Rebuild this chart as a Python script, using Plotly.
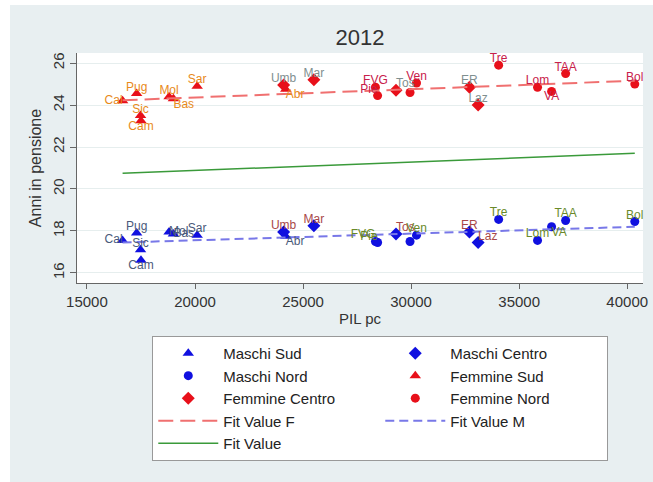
import plotly.graph_objects as go

# ---------------- data ----------------
regions = ["Cal", "Pug", "Sic", "Cam", "Mol", "Bas", "Sar", "Umb", "Abr", "Mar", "FVG",
           "Pie", "Tos", "Lig", "Ven", "ER", "Laz", "Tre", "Lom", "VA", "TAA", "Bol"]
area = ["Sud", "Sud", "Sud", "Sud", "Sud", "Sud", "Sud", "Centro", "Sud", "Centro", "Nord",
        "Nord", "Centro", "Nord", "Nord", "Centro", "Centro", "Nord", "Nord", "Nord", "Nord", "Nord"]
pil_pc = [16650, 17300, 17480, 17500, 18800, 19000, 20100, 24100, 24200, 25500, 28350,
          28450, 29300, 29950, 30250, 32700, 33100, 34050, 35850, 36500, 37150, 40350]
anni_f = [24.2, 24.55, 23.5, 23.25, 24.4, 24.3, 24.9, 24.95, 24.75, 25.2, 24.85,
          24.45, 24.7, 24.6, 25.05, 24.85, 24.0, 25.9, 24.85, 24.65, 25.5, 25.0]
anni_m = [17.55, 17.9, 17.1, 16.6, 17.95, 17.85, 17.8, 17.95, 17.75, 18.25, 17.5,
          17.45, 17.85, 17.5, 17.8, 17.95, 17.45, 18.55, 17.55, 18.2, 18.5, 18.45]

fit_x = [16650, 40350]
fit_f = [24.23, 25.16]
fit_m = [17.45, 18.2]
fit_all = [20.75, 21.7]

x_ticks = [15000, 20000, 25000, 30000, 35000, 40000]
y_ticks = [16, 18, 20, 22, 24, 26]

# ---------------- styles ----------------
FONT = "Liberation Sans, Arial, sans-serif"
RED = "#e8101a"
BLUE = "#1010e0"
label_col_f = {"Sud": "#e88a1a", "Centro": "#7f8f8f", "Nord": "#c8204a"}
label_col_m = {"Sud": "#4a5a7a", "Centro": "#a84848", "Nord": "#6a8a2a"}
symbols = {"Sud": "triangle-up", "Centro": "diamond", "Nord": "circle"}
sizes = {"Sud": 10, "Centro": 10, "Nord": 9}

pos_f = {"Cal": "middle left", "Cam": "bottom center", "Bas": "bottom right",
         "Abr": "bottom right", "Pie": "top left", "Tos": "top right", "VA": "bottom center",
         "Lig": None}
pos_m = {"Cal": "middle left", "Cam": "bottom center", "Mol": "middle right",
         "Bas": "middle right", "Abr": "bottom right", "FVG": "top left", "Pie": "top left",
         "Tos": "top right", "Laz": "top right", "VA": "bottom right", "Lig": None}

fig = go.Figure()

order = [("Maschi", "Sud", anni_m), ("Maschi", "Centro", anni_m), ("Maschi", "Nord", anni_m),
         ("Femmine", "Sud", anni_f), ("Femmine", "Centro", anni_f), ("Femmine", "Nord", anni_f)]

for sex, a, vals in order:
    idx = [i for i, r in enumerate(area) if r == a]
    fig.add_trace(go.Scatter(
        x=[pil_pc[i] for i in idx], y=[vals[i] for i in idx],
        mode="markers", name=f"{sex} {a}",
        marker=dict(symbol=symbols[a], size=sizes[a],
                    color=BLUE if sex == "Maschi" else RED, line=dict(width=0)),
        hoverinfo="skip"))

fig.add_trace(go.Scatter(x=fit_x, y=fit_f, mode="lines", name="Fit Value F",
                         line=dict(color="#f07070", width=2, dash="15px,7px")))
fig.add_trace(go.Scatter(x=fit_x, y=fit_m, mode="lines", name="Fit Value M",
                         line=dict(color="#7878e8", width=2, dash="9px,5px")))
fig.add_trace(go.Scatter(x=fit_x, y=fit_all, mode="lines", name="Fit Value",
                         line=dict(color="#3a9a3a", width=1.5)))

# point labels
for vals, pos, cols in [(anni_f, pos_f, label_col_f), (anni_m, pos_m, label_col_m)]:
    xs, ys, ts, tp, tc = [], [], [], [], []
    for i, r in enumerate(regions):
        p = pos.get(r, "top center")
        if p is None:
            continue
        xs.append(pil_pc[i]); ys.append(vals[i]); ts.append(r); tp.append(p)
        tc.append(cols[area[i]])
    fig.add_trace(go.Scatter(x=xs, y=ys, mode="text", text=ts, textposition=tp,
                             textfont=dict(color=tc, size=12, family=FONT),
                             cliponaxis=False, showlegend=False, hoverinfo="skip"))

fig.update_layout(
    width=643, height=477,
    paper_bgcolor="#e8eff1", plot_bgcolor="white",
    margin=dict(l=67, r=5, t=48, b=199),
    font=dict(family=FONT, color="#333"),
    title=dict(text="2012", x=0.5, xref="paper", y=1 - 32 / 477, yanchor="middle",
               font=dict(size=22, color="#333")),
    xaxis=dict(range=[14540, 40730], tickvals=x_ticks, tickformat="d", ticks="outside",
               ticklen=5, tickcolor="#666", showline=True, linecolor="#666", linewidth=1,
               showgrid=False, zeroline=False, tickfont=dict(size=15, color="#333"),
               title=dict(text="PIL pc", font=dict(size=15, color="#333"), standoff=4)),
    yaxis=dict(range=[15.52, 26.48], tickvals=y_ticks, ticks="outside", ticklen=6,
               tickcolor="#666", showline=True, linecolor="#666", linewidth=1,
               showgrid=True, gridcolor="#e6eeee", zeroline=False, tickangle=-90,
               tickfont=dict(size=15, color="#333"),
               title=dict(text="Anni in pensione", font=dict(size=16, color="#333"), standoff=4)),
    legend=dict(orientation="h", x=0.133, xanchor="left", y=-0.23, yanchor="top",
                bgcolor="white", bordercolor="#999", borderwidth=1,
                font=dict(size=15, color="#222"), entrywidth=152, itemwidth=60,
                itemsizing="trace", traceorder="normal"),
    showlegend=True,
)

fig.write_html("out.html", post_script="document.body.style.margin='5px 0 0 10px';")
